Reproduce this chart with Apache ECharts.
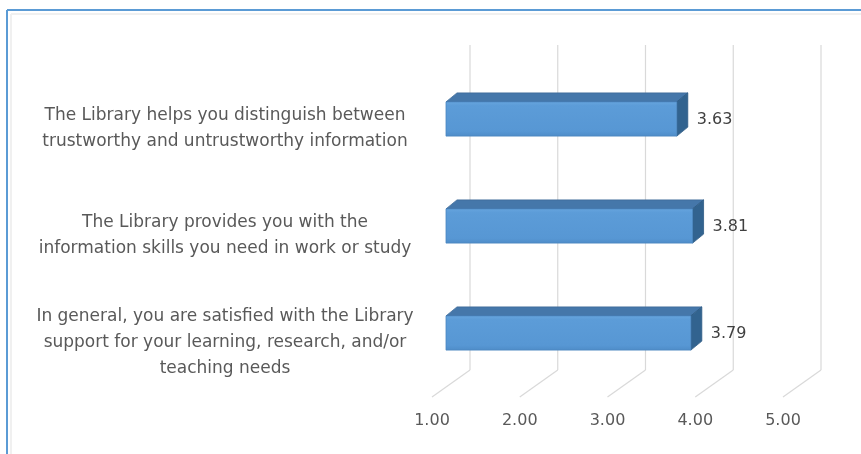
<!DOCTYPE html>
<html>
<head>
<meta charset="utf-8">
<title>Library satisfaction scores</title>
<script src="https://cdn.jsdelivr.net/npm/echarts@6/dist/echarts.min.js"></script>
<style>
  html, body { margin: 0; padding: 0; background: #ffffff; }
  #chart { width: 861px; height: 454px; }
</style>
</head>
<body>
<div id="chart"></div>
<script>
// Survey statements (top to bottom) and their mean scores
const categories = [
  'The Library helps you distinguish between\ntrustworthy and untrustworthy information',
  'The Library provides you with the\ninformation skills you need in work or study',
  'In general, you are satisfied with the Library\nsupport for your learning, research, and/or\nteaching needs'
];
const scores = [3.63, 3.81, 3.79];
const tickValues = [1, 2, 3, 4, 5];
const axisMin = 1;
const axisMax = 5;

const FONT = '"DejaVu Sans", "Liberation Sans", sans-serif';

// Perspective offsets for the pseudo-3D look
const barDepth = [11, -9];     // top / side faces of each bar
const floorDepth = [-38, 27];  // floor lines running toward the viewer

const chart = echarts.init(document.getElementById('chart'), null, { renderer: 'canvas' });

function renderBar(params, api) {
  const val = api.value(0);
  const cat = api.value(1);
  const pStart = api.coord([axisMin, cat]);
  const pEnd = api.coord([val, cat]);
  const h = api.size([0, 1])[1] * 0.32;
  const x0 = pStart[0], x1 = pEnd[0];
  const yT = pEnd[1] - h / 2, yB = pEnd[1] + h / 2;
  const dx = barDepth[0], dy = barDepth[1];
  return {
    type: 'group',
    children: [
      { // top face
        type: 'polygon',
        shape: { points: [[x0, yT], [x0 + dx, yT + dy], [x1 + dx, yT + dy], [x1, yT]] },
        style: { fill: '#4577AA', stroke: '#3C6A98', lineWidth: 0.8 }
      },
      { // side face
        type: 'polygon',
        shape: { points: [[x1, yT], [x1 + dx, yT + dy], [x1 + dx, yB + dy], [x1, yB]] },
        style: { fill: '#32638F', stroke: '#2D5A84', lineWidth: 0.8 }
      },
      { // front face
        type: 'rect',
        shape: { x: x0, y: yT, width: x1 - x0, height: h },
        style: {
          fill: new echarts.graphic.LinearGradient(0, 0, 0, 1, [
            { offset: 0, color: '#67A5DE' },
            { offset: 0.12, color: '#5C9CD8' },
            { offset: 0.85, color: '#5797D4' },
            { offset: 1, color: '#4E8CC8' }
          ]),
          stroke: '#4A86C0', lineWidth: 0.8
        }
      },
      { // value label
        type: 'text',
        style: {
          text: val.toFixed(2),
          x: x1 + 20, y: pEnd[1] + 1,
          verticalAlign: 'middle', align: 'left',
          fill: '#404040', font: '16px ' + FONT
        }
      }
    ]
  };
}

function renderGrid(params, api) {
  const v = api.value(0);
  const top = api.coord([v, 1]);
  const bottom = api.coord([v, 0]);
  const stroke = { stroke: '#D9D9D9', lineWidth: 1.2 };
  return {
    type: 'group',
    children: [
      { type: 'line', shape: { x1: top[0], y1: top[1], x2: bottom[0], y2: bottom[1] }, style: stroke },
      { type: 'line', shape: { x1: bottom[0], y1: bottom[1], x2: bottom[0] + floorDepth[0], y2: bottom[1] + floorDepth[1] }, style: stroke }
    ]
  };
}

const hiddenValueAxis = (gridIndex) => ({
  type: 'value', gridIndex, min: axisMin, max: axisMax, interval: 1,
  axisLine: { show: false }, axisTick: { show: false },
  axisLabel: { show: false }, splitLine: { show: false }
});

const option = {
  backgroundColor: '#ffffff',
  animation: false,
  grid: [
    { left: 446, width: 351, top: 65.5, height: 321 },   // bars (front plane)
    { left: 470, width: 351, top: 45, height: 325 },     // back wall
    { left: 432, width: 351, top: 45, height: 352 },     // floor front edge with value ticks
    { left: 446, width: 351, top: 75.5, height: 321 }    // statement labels, on the floor
  ],
  xAxis: [
    hiddenValueAxis(0),
    hiddenValueAxis(1),
    {
      type: 'value', gridIndex: 2, min: axisMin, max: axisMax, interval: 1,
      axisLine: { show: false }, axisTick: { show: false }, splitLine: { show: false },
      axisLabel: {
        show: true, margin: 16, color: '#595959', fontSize: 16, fontFamily: FONT,
        formatter: (v) => v.toFixed(2)
      }
    },
    hiddenValueAxis(3)
  ],
  yAxis: [
    {
      type: 'category', gridIndex: 0, data: categories, inverse: true,
      axisLine: { show: false }, axisTick: { show: false }, splitLine: { show: false },
      axisLabel: { show: false }
    },
    { type: 'value', gridIndex: 1, min: 0, max: 1, show: false },
    { type: 'value', gridIndex: 2, min: 0, max: 1, show: false },
    {
      type: 'category', gridIndex: 3, data: categories, inverse: true,
      axisLine: { show: false }, axisTick: { show: false }, splitLine: { show: false },
      axisLabel: {
        show: true, align: 'center', margin: 221, lineHeight: 26,
        color: '#595959', fontSize: 17, fontFamily: FONT
      }
    }
  ],
  series: [
    {
      type: 'custom', name: 'grid', xAxisIndex: 1, yAxisIndex: 1,
      data: tickValues.map(v => [v]), encode: { x: 0 },
      renderItem: renderGrid, clip: false, silent: true, z: 1
    },
    {
      type: 'custom', name: 'Score', xAxisIndex: 0, yAxisIndex: 0,
      data: scores.map((v, i) => [v, i]), encode: { x: 0, y: 1 },
      renderItem: renderBar, clip: false, z: 3
    }
  ],
  graphic: [
    // chart frame
    { type: 'line', shape: { x1: 11, y1: 14, x2: 861, y2: 14 }, style: { stroke: '#F0F0F0', lineWidth: 2 }, z: 100 },
    { type: 'line', shape: { x1: 11, y1: 14, x2: 11, y2: 454 }, style: { stroke: '#F0F0F0', lineWidth: 2 }, z: 100 },
    { type: 'line', shape: { x1: 7, y1: 10, x2: 861, y2: 10 }, style: { stroke: '#5B9BD5', lineWidth: 2 }, z: 101 },
    { type: 'line', shape: { x1: 7, y1: 10, x2: 7, y2: 454 }, style: { stroke: '#5B9BD5', lineWidth: 2 }, z: 101 }
  ]
};

chart.setOption(option);
</script>
</body>
</html>
